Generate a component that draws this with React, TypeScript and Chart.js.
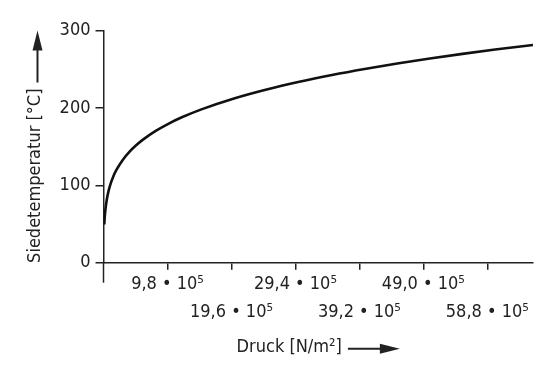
import React, { useEffect, useRef } from "react";
import { Chart, registerables } from "chart.js";

Chart.register(...registerables);

// Druck in 10^5 N/m², Siedetemperatur in °C
const PRESSURE = [0.12, 0.2, 0.3, 0.5, 0.7, 1, 1.5, 2, 3, 4, 5, 6, 8, 10, 12, 15, 20, 25, 30, 35, 40, 45, 50, 55, 60, 65.8];
const TEMPERATURE = [49.4, 60.1, 69.1, 81.3, 90, 99.6, 111.4, 120.2, 133.5, 143.6, 151.8, 158.8, 170.4, 179.9, 188, 198.3, 212.4, 224, 233.9, 242.6, 250.4, 257.5, 264, 270, 275.6, 281.6];

const X_TICKS = [9.8, 19.6, 29.4, 39.2, 49.0, 58.8];
const X_TICK_LABELS = ["9,8 • 10⁵", "19,6 • 10⁵", "29,4 • 10⁵", "39,2 • 10⁵", "49,0 • 10⁵", "58,8 • 10⁵"];
const X_MIN = 0;
const X_MAX = 65.8;

const Y_TICKS = [0, 100, 200, 300];
const Y_MIN = 0;
const Y_MAX = 300;

const X_TITLE = "Druck [N/m²]";
const Y_TITLE = "Siedetemperatur [°C]";

const FONT_FAMILY = '"DejaVu Sans Condensed", "Liberation Sans Narrow", "DejaVu Sans", sans-serif';
const FONT_SIZE = 18;
const TEXT_COLOR = "#222";
const AXIS_COLOR = "#222";

function drawArrow(ctx: CanvasRenderingContext2D, x: number, y: number, len: number) {
  const head = 20;
  ctx.beginPath();
  ctx.lineWidth = 2;
  ctx.moveTo(x, y);
  ctx.lineTo(x + len - head + 2, y);
  ctx.stroke();
  ctx.beginPath();
  ctx.moveTo(x + len - head, y - 5);
  ctx.lineTo(x + len, y);
  ctx.lineTo(x + len - head, y + 5);
  ctx.closePath();
  ctx.fill();
}

const axisDecor = {
  id: "axisDecor",
  afterDraw(chart: any) {
    const { ctx, chartArea: a } = chart;
    ctx.save();
    ctx.strokeStyle = AXIS_COLOR;
    ctx.fillStyle = TEXT_COLOR;
    ctx.lineWidth = 1.5;
    // y axis extension below the x axis
    ctx.beginPath();
    ctx.moveTo(a.left, a.bottom);
    ctx.lineTo(a.left, a.bottom + 20);
    ctx.stroke();

    ctx.font = `${FONT_SIZE}px ${FONT_FAMILY}`;
    ctx.textBaseline = "middle";
    ctx.textAlign = "left";
    const gap = 6;
    const arrowLen = 52;

    // x title
    const tw = ctx.measureText(X_TITLE).width;
    const total = tw + gap + arrowLen;
    const cx = (a.left + a.right) / 2;
    const x0 = cx - total / 2;
    const ty = a.bottom + 85;
    ctx.fillText(X_TITLE, x0, ty);
    drawArrow(ctx, x0 + tw + gap, ty + 1, arrowLen);

    // y title
    ctx.save();
    ctx.translate(a.left - 68, (a.top + a.bottom) / 2);
    ctx.rotate(-Math.PI / 2);
    const tw2 = ctx.measureText(Y_TITLE).width;
    const total2 = tw2 + gap + arrowLen;
    const y0 = -total2 / 2;
    ctx.fillText(Y_TITLE, y0, 0);
    drawArrow(ctx, y0 + tw2 + gap, 2, arrowLen);
    ctx.restore();

    ctx.restore();
  },
};

export default function App() {
  const ref = useRef<HTMLCanvasElement>(null);

  useEffect(() => {
    if (!ref.current) return;
    const font = { family: FONT_FAMILY, size: FONT_SIZE };
    const chart = new Chart(ref.current, {
      type: "line",
      data: {
        datasets: [
          {
            data: PRESSURE.map((p, i) => ({ x: p, y: TEMPERATURE[i] })),
            borderColor: "#111",
            borderWidth: 2.6,
            pointRadius: 0,
            cubicInterpolationMode: "monotone",
            fill: false,
          },
        ],
      },
      options: {
        animation: false,
        responsive: false,
        plugins: { legend: { display: false }, tooltip: { enabled: false } },
        layout: { padding: { left: 0, top: 30.7, right: 27, bottom: 0 } },
        scales: {
          x: {
            type: "linear",
            min: X_MIN,
            max: X_MAX,
            afterBuildTicks: (scale: any) => {
              scale.ticks = X_TICKS.map((v) => ({ value: v }));
            },
            afterFit: (scale: any) => {
              scale.height = 379 - 262.7;
              scale.paddingLeft = 0;
              scale.paddingRight = 0;
            },
            grid: {
              display: true,
              drawOnChartArea: false,
              drawTicks: true,
              tickLength: 7,
              color: AXIS_COLOR,
              lineWidth: 1.5,
            },
            border: { display: true, color: AXIS_COLOR, width: 1.5 },
            ticks: {
              autoSkip: false,
              maxRotation: 0,
              minRotation: 0,
              padding: 1,
              color: TEXT_COLOR,
              font: { ...font, lineHeight: 28 / FONT_SIZE },
              callback: (_v: any, index: number) => {
                const lab = X_TICK_LABELS[index];
                return index % 2 === 0 ? [lab, ""] : ["", lab];
              },
            },
          },
          y: {
            type: "linear",
            min: Y_MIN,
            max: Y_MAX,
            afterBuildTicks: (scale: any) => {
              scale.ticks = Y_TICKS.map((v) => ({ value: v }));
            },
            afterFit: (scale: any) => {
              scale.width = 103.5;
              scale.paddingTop = 0;
              scale.paddingBottom = 0;
            },
            grid: {
              display: true,
              drawOnChartArea: false,
              drawTicks: true,
              tickLength: 8,
              color: AXIS_COLOR,
              lineWidth: 1.5,
            },
            border: { display: true, color: AXIS_COLOR, width: 1.5 },
            ticks: {
              padding: 5,
              color: TEXT_COLOR,
              font,
            },
          },
        },
      },
      plugins: [axisDecor],
    } as any);
    return () => chart.destroy();
  }, []);

  return (
    <div style={{ position: "absolute", left: 0, top: 0, width: 560, height: 379, background: "#fff" }}>
      <canvas ref={ref} width={560} height={379} />
    </div>
  );
}
